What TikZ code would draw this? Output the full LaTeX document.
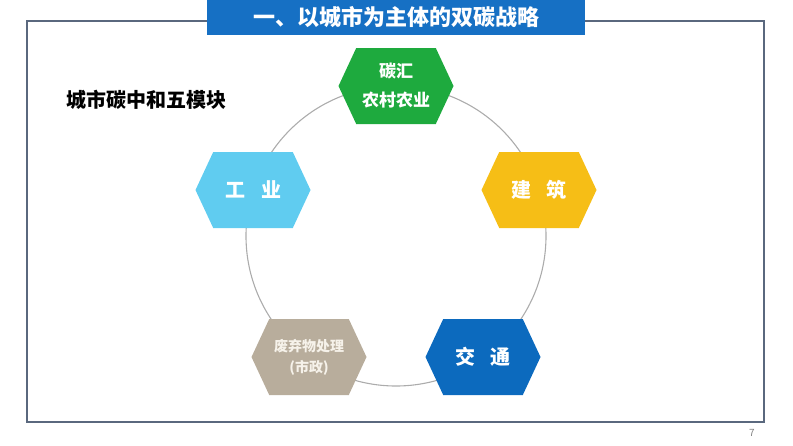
\documentclass[tikz,border=0pt]{standalone}
\usepackage{fontspec}
\setmainfont{Noto Sans CJK SC}
\usetikzlibrary{shapes.symbols, positioning}

\begin{document}
\begin{tikzpicture}[x=1pt, y=-1pt, thick]

  % Colors
  \definecolor{titleblue}{RGB}{22,112,196}
  \definecolor{framegray}{RGB}{90,104,126}
  \definecolor{ringgray}{RGB}{172,172,172}
  \definecolor{hexgreen}{RGB}{30,170,62}
  \definecolor{hexcyan}{RGB}{96,204,240}
  \definecolor{hexyellow}{RGB}{246,190,22}
  \definecolor{hexbeige}{RGB}{184,173,156}
  \definecolor{hexblue}{RGB}{12,106,190}

  \tikzset{
    hexbox/.style={signal, signal to=east and west, signal pointer angle=130,
      minimum width=115pt, minimum height=76pt, inner sep=0pt, draw=none,
      text=white, align=center, font=\bfseries\fontsize{20}{24}\selectfont}
  }

  \useasboundingbox (0,0) rectangle (793,445);

  % Frame and title banner
  \draw[framegray, line width=1.4pt] (27,21) rectangle (764,422);
  \node (title) [fill=titleblue, minimum width=378pt, minimum height=35pt, inner sep=0pt,
    text=white, font=\bfseries\fontsize{22}{26}\selectfont] at (396,17.5) {一、以城市为主体的双碳战略};

  \node (subtitle) [anchor=west, font=\bfseries\fontsize{20}{22}\selectfont] at (63,100) {城市碳中和五模块};

  % Ring
  \coordinate (ctr) at (396,236);
  \draw[ringgray, line width=1.1pt] (ctr) circle[radius=150pt];

  % Five modules
  \node (sink) [hexbox, fill=hexgreen, font=\bfseries\fontsize{17}{29}\selectfont] at (396,86) {碳汇\\农村农业};
  \node (industry) [hexbox, fill=hexcyan] at (253,190) {工\hspace{16pt}业};
  \node (building) [hexbox, fill=hexyellow] at (539,190) {建\hspace{15pt}筑};
  \node (waste) [hexbox, fill=hexbeige, text={rgb,255:red,246;green,242;blue,234},
    font=\bfseries\fontsize{14}{21}\selectfont] at (309,357) {废弃物处理\\(市政)};
  \node (traffic) [hexbox, fill=hexblue] at (483,357) {交\hspace{15pt}通};

  % Page number
  \node (page) [text=gray, font=\fontsize{10}{11}\selectfont] at (752,433) {7};

\end{tikzpicture}
\end{document}
